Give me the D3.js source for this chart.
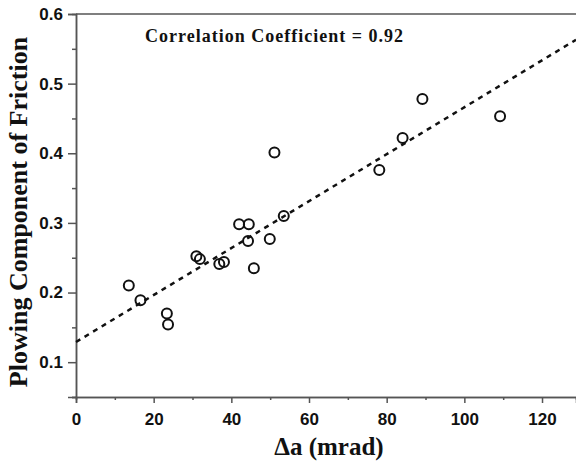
<!DOCTYPE html>
<html>
<head>
<meta charset="utf-8">
<script src="https://cdn.jsdelivr.net/npm/d3@7"></script>
<style>
  body { margin: 0; background: #fff; }
  svg { display: block; }
</style>
</head>
<body>
<div id="chart"></div>
<script>
// measured points: plowing angle change vs plowing friction
var deltaA = [13.6, 16.6, 23.4, 23.7, 31.0, 31.9, 36.9, 38.1, 42.0, 44.5,
              44.3, 45.8, 49.9, 53.5, 51.1, 78.1, 84.1, 89.2, 109.2];
var plowing = [0.210, 0.189, 0.170, 0.154, 0.252, 0.248, 0.241, 0.244, 0.298, 0.298,
               0.274, 0.235, 0.277, 0.310, 0.401, 0.376, 0.422, 0.478, 0.453];

// linear fit line end points
var fitX = [0, 128.75];
var fitY = [0.129, 0.563];

var xTicks = [0, 20, 40, 60, 80, 100, 120];
var yTicks = [0.1, 0.2, 0.3, 0.4, 0.5, 0.6];
var note = 'Correlation Coefficient = 0.92';

var W = 576, H = 471;
var margin = { top: 14, right: 0, bottom: 74, left: 76 };
var w = W - margin.left - margin.right;
var h = H - margin.top - margin.bottom;

var svg = d3.select('#chart')
  .append('svg')
  .attr('width', W)
  .attr('height', H);

var g = svg.append('g')
  .attr('transform', 'translate(' + margin.left + ',' + margin.top + ')');

var x = d3.scaleLinear().domain([0, 128.75]).range([0, w]);
var y = d3.scaleLinear().domain([0.05, 0.6]).range([h, 0]);

var axisColor = '#555';

// minor ticks
var xMinor = d3.range(10, 128, 20);
var yMinor = d3.range(0.05, 0.6, 0.1);

var xAxis = g.append('g')
  .attr('transform', 'translate(0,' + h + ')')
  .call(d3.axisBottom(x).tickValues(xTicks).tickSize(6).tickPadding(10)
    .tickFormat(d3.format('d')));
xAxis.append('g')
  .call(d3.axisBottom(x).tickValues(xMinor).tickSize(3).tickFormat(''));

var yAxis = g.append('g')
  .call(d3.axisLeft(y).tickValues(yTicks).tickSize(8).tickPadding(5)
    .tickFormat(d3.format('.1f')));
yAxis.append('g')
  .call(d3.axisLeft(y).tickValues(yMinor).tickSize(4).tickFormat(''));

g.selectAll('.domain').attr('stroke', axisColor).attr('stroke-width', 1.5);
g.selectAll('.tick line').attr('stroke', axisColor).attr('stroke-width', 1.5);
g.selectAll('.tick text')
  .attr('fill', '#111')
  .style('font-family', '"Liberation Sans", Arial, sans-serif')
  .style('font-weight', 'bold')
  .style('font-size', '17px');

// top frame line
g.append('line')
  .attr('x1', 0).attr('x2', w)
  .attr('y1', 0).attr('y2', 0)
  .attr('stroke', axisColor)
  .attr('stroke-width', 1.5);

// dashed fit line
g.append('line')
  .attr('x1', x(fitX[0])).attr('y1', y(fitY[0]))
  .attr('x2', x(fitX[1])).attr('y2', y(fitY[1]))
  .attr('stroke', '#111')
  .attr('stroke-width', 2.5)
  .attr('stroke-dasharray', '5,5');

// open circles
g.selectAll('circle.pt')
  .data(deltaA)
  .enter()
  .append('circle')
  .attr('class', 'pt')
  .attr('cx', function (d) { return x(d); })
  .attr('cy', function (d, i) { return y(plowing[i]); })
  .attr('r', 5)
  .attr('fill', 'none')
  .attr('stroke', '#111')
  .attr('stroke-width', 2);

// annotation
g.append('text')
  .attr('x', 69)
  .attr('y', 28)
  .attr('textLength', 258)
  .attr('fill', '#111')
  .style('font-family', '"Liberation Serif", "Times New Roman", serif')
  .style('font-weight', 'bold')
  .style('font-size', '18px')
  .text(note);

// axis titles
svg.append('text')
  .attr('x', 329)
  .attr('y', 455)
  .attr('text-anchor', 'middle')
  .attr('fill', '#111')
  .style('font-family', '"Liberation Serif", "Times New Roman", serif')
  .style('font-weight', 'bold')
  .style('font-size', '25px')
  .text('\u0394a (mrad)');

svg.append('text')
  .attr('transform', 'translate(27,212) rotate(-90)')
  .attr('text-anchor', 'middle')
  .attr('fill', '#111')
  .style('font-family', '"Liberation Serif", "Times New Roman", serif')
  .style('font-weight', 'bold')
  .style('font-size', '26px')
  .text('Plowing Component of Friction');
</script>
</body>
</html>
